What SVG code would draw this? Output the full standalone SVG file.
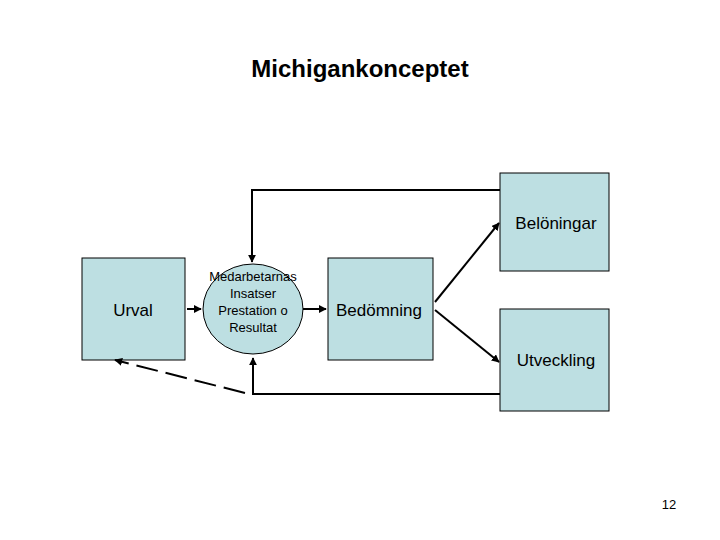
<svg xmlns="http://www.w3.org/2000/svg" width="720" height="540" viewBox="0 0 720 540">
<style>
.box{fill:#bddfe2;stroke:#000;stroke-width:1}
.t{font-family:"Liberation Sans",Arial,sans-serif;fill:#000;text-anchor:middle}
.c{stroke:#000;stroke-width:2;fill:none}
</style>
<defs><marker id="a" viewBox="0 0 10 10" refX="9" refY="5" markerWidth="4" markerHeight="4" orient="auto"><path d="M0,0L10,5L0,10z"/></marker></defs>
<rect width="720" height="540" fill="#fff"/>
<text class="t" x="360" y="77" font-size="24" font-weight="bold">Michigankonceptet</text>
<g id="urval"><rect class="box" x="82" y="258" width="103" height="102"/><text class="t" x="133" y="316" font-size="17">Urval</text></g>
<g id="medarb"><ellipse class="box" cx="253" cy="309" rx="50" ry="45" stroke-width="0.6"/><text class="t" font-size="13"><tspan x="253" y="281">Medarbetarnas</tspan><tspan x="253" y="298">Insatser</tspan><tspan x="253" y="315">Prestation o</tspan><tspan x="253" y="332">Resultat</tspan></text></g>
<g id="bedomning"><rect class="box" x="328" y="258" width="105" height="102"/><text class="t" x="379" y="316" font-size="17">Bedömning</text></g>
<g id="beloningar"><rect class="box" x="500" y="173" width="109" height="98"/><text class="t" x="556" y="229" font-size="17">Belöningar</text></g>
<g id="utveckling"><rect class="box" x="500" y="309" width="109" height="102"/><text class="t" x="556" y="366" font-size="17">Utveckling</text></g>
<g id="connectors">
<path class="c" d="M500,190H252V262" marker-end="url(#a)"/>
<path class="c" d="M500,394H253V358" marker-end="url(#a)"/>
<path class="c" d="M245,393L115,360" stroke-dasharray="22,8" stroke-width="1.2" marker-end="url(#a)"/>
<path class="c" d="M187,309H201" marker-end="url(#a)"/>
<path class="c" d="M303,309H326" marker-end="url(#a)"/>
<path class="c" d="M435,302L499,223" marker-end="url(#a)"/>
<path class="c" d="M435,310L499,362" marker-end="url(#a)"/>
</g>
<text class="t" x="669" y="509" font-size="13">12</text>
</svg>
